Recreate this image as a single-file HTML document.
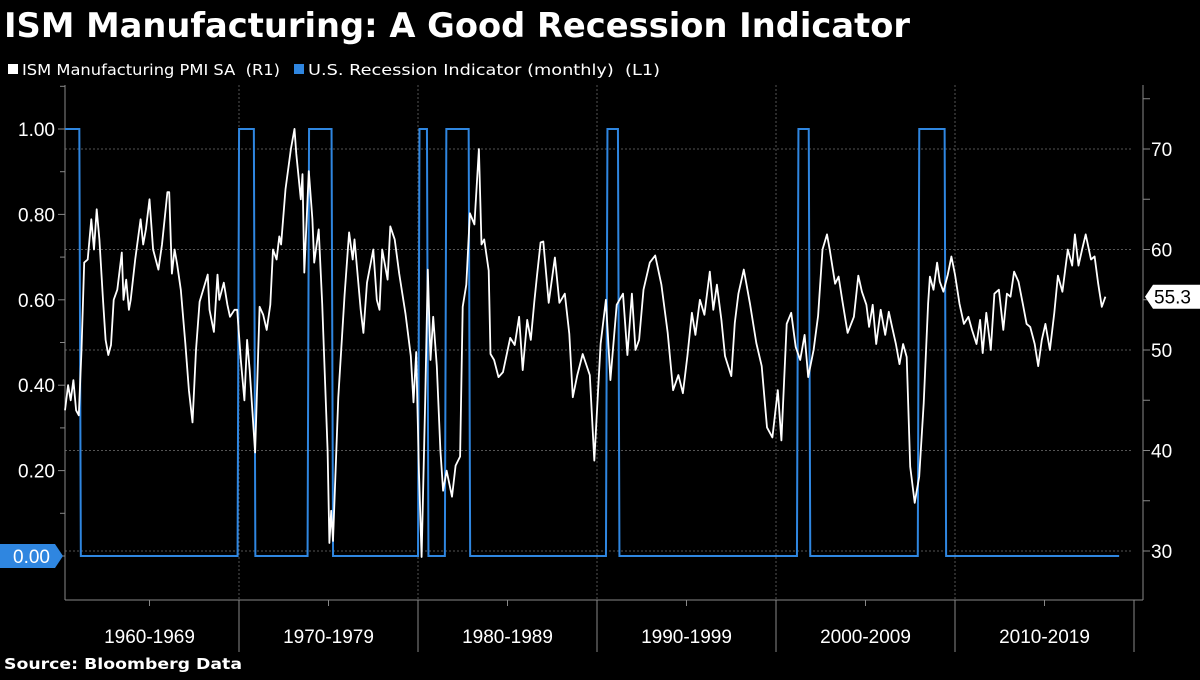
<!DOCTYPE html>
<html><head><meta charset="utf-8"><style>
body{margin:0;background:#000;width:1200px;height:675px;overflow:hidden;font-family:"Liberation Sans",sans-serif}
</style></head><body>
<svg id="c" width="1200" height="675" xmlns="http://www.w3.org/2000/svg">
<text x="4" y="37" fill="#fff" font-size="34" font-weight="bold" font-family="DejaVu Sans, sans-serif" textLength="906" lengthAdjust="spacingAndGlyphs">ISM Manufacturing: A Good Recession Indicator</text>
<g>
<rect x="8" y="64" width="10" height="10" fill="#fff"/>
<text x="22" y="75" fill="#fff" font-size="15" font-family="DejaVu Sans, sans-serif" textLength="258" lengthAdjust="spacingAndGlyphs" xml:space="preserve">ISM Manufacturing PMI SA  (R1)</text>
<rect x="294" y="64" width="10" height="10" fill="#2f86e0"/>
<text x="308" y="75" fill="#fff" font-size="15" font-family="DejaVu Sans, sans-serif" textLength="352" lengthAdjust="spacingAndGlyphs" xml:space="preserve">U.S. Recession Indicator (monthly)  (L1)</text>
</g>
<g id="grid"></g>
<g id="axes"></g>
<g id="series"></g>
<text x="4" y="669" fill="#fff" font-size="15" font-weight="bold" font-family="DejaVu Sans, sans-serif" textLength="238" lengthAdjust="spacingAndGlyphs">Source: Bloomberg Data</text>
</svg>
<script>
const decadeLabels=["1960-1969","1970-1979","1980-1989","1990-1999","2000-2009","2010-2019"];
const leftTicks=[0,0.2,0.4,0.6,0.8,1.0];
const rightTicks=[30,40,50,60,70];
const recStart=[1960.25,1969.92,1973.83,1980.0,1981.5,1990.5,2001.17,2007.92];
const recEnd=[1961.08,1970.83,1975.17,1980.5,1982.83,1991.17,2001.83,2009.42];
const dataEnd=2019.17;
const lastValue=55.3;
const dates=[1960.28,1960.45,1960.6,1960.75,1960.9,1961.05,1961.2,1961.35,1961.55,1961.75,1961.9,1962.05,1962.2,1962.4,1962.55,1962.7,1962.85,1963.0,1963.2,1963.45,1963.55,1963.7,1963.85,1963.95,1964.2,1964.5,1964.65,1964.8,1965.0,1965.2,1965.5,1965.7,1966.0,1966.1,1966.25,1966.4,1966.55,1966.75,1967.0,1967.2,1967.4,1967.6,1967.8,1968.0,1968.25,1968.35,1968.6,1968.8,1968.9,1969.15,1969.35,1969.5,1969.75,1969.9,1970.1,1970.3,1970.45,1970.6,1970.9,1971.15,1971.35,1971.55,1971.75,1971.9,1972.1,1972.25,1972.35,1972.6,1972.9,1973.1,1973.2,1973.45,1973.55,1973.65,1973.9,1974.1,1974.2,1974.45,1974.65,1974.95,1975.05,1975.15,1975.25,1975.55,1975.9,1976.15,1976.35,1976.45,1976.8,1976.95,1977.15,1977.5,1977.7,1977.85,1978.0,1978.3,1978.45,1978.7,1978.95,1979.3,1979.6,1979.75,1979.9,1980.05,1980.2,1980.4,1980.55,1980.7,1980.85,1981.05,1981.25,1981.4,1981.6,1981.9,1982.1,1982.35,1982.5,1982.7,1982.9,1983.15,1983.4,1983.55,1983.7,1983.95,1984.05,1984.25,1984.5,1984.75,1985.15,1985.4,1985.65,1985.85,1986.1,1986.3,1986.5,1986.65,1986.85,1987.0,1987.3,1987.65,1987.9,1988.2,1988.45,1988.65,1988.9,1989.2,1989.6,1989.85,1990.2,1990.5,1990.75,1991.1,1991.45,1991.7,1991.95,1992.15,1992.35,1992.6,1992.95,1993.25,1993.6,1993.95,1994.25,1994.55,1994.8,1995.05,1995.3,1995.5,1995.75,1996.0,1996.3,1996.5,1996.7,1996.95,1997.15,1997.5,1997.7,1997.9,1998.2,1998.55,1998.9,1999.2,1999.5,1999.8,2000.1,2000.3,2000.6,2000.85,2001.1,2001.35,2001.6,2001.8,2002.1,2002.35,2002.6,2002.85,2003.0,2003.3,2003.5,2003.7,2004.0,2004.35,2004.6,2004.8,2005.05,2005.2,2005.4,2005.6,2005.85,2006.1,2006.3,2006.5,2006.7,2006.9,2007.1,2007.3,2007.5,2007.75,2008.0,2008.25,2008.5,2008.6,2008.8,2009.0,2009.15,2009.35,2009.6,2009.8,2010.0,2010.25,2010.5,2010.75,2010.95,2011.2,2011.4,2011.55,2011.75,2012.0,2012.2,2012.45,2012.7,2012.9,2013.1,2013.3,2013.55,2013.8,2014.0,2014.2,2014.45,2014.65,2014.85,2015.05,2015.3,2015.55,2015.75,2016.0,2016.3,2016.55,2016.7,2016.9,2017.1,2017.3,2017.6,2017.8,2018.0,2018.2,2018.4,2018.55,2018.7,2018.85,2019.0,2019.08,2019.17];
const pmi=[44,46.5,45,47,44,43.5,50,58.7,59,63,60,64,61,55,51,49.5,50.5,55,56,59.7,55,57,54,55,59,63,60.5,62,65,60,58,60.5,65.7,65.7,57.6,60,58.5,56,50.7,46,42.8,50,54.8,56,57.5,54,51.8,57.5,55,56.7,54.5,53.3,54,54,49,45,51,48,39.8,54.3,53.5,52,54.5,60,59,61.3,60.5,66,70,72,69.5,65,67.5,57.7,67.8,63,58.7,62,54.6,40,30.8,34,31,45.3,55.5,61.7,59,61,54,51.7,56.7,60,55,54,60,57,62.3,61,57.6,53.6,49.4,44.8,49.8,38,29.4,45,58,49,53.3,48.4,40,36,38,35.4,38.5,39.4,54.3,56.5,63.6,62.5,70,60.5,61,57.9,49.6,49,47.3,47.8,51.2,50.5,53.3,48,53,51,54.8,57.4,60.7,60.8,54.7,59.2,54.7,55.6,51.6,45.3,47.5,49.6,47.5,39,50.6,55,47,54.5,55.6,49.5,55.6,50,51,56,58.7,59.4,56.5,51.7,46,47.5,45.7,49.4,53.7,51.5,55,53.5,57.8,54,56.5,53,49.4,47.4,52.7,55.6,58,54.6,50.7,48.4,42.3,41.3,46,41,52.6,53.7,50.3,49,51.5,47.3,50,53.4,60,61.5,60,56.6,57.3,55,51.7,53.3,57.4,55.8,54.5,52.3,54.5,50.6,54,51.5,53.8,52.2,50.6,48.6,50.6,49.3,38.4,34.8,37.4,44.7,54.6,57.3,56,58.7,56.8,55.8,57.5,59.3,57.5,54.6,52.6,53.3,52,50.6,53,49.7,53.7,50,55.6,56,52,55.6,55.3,57.8,56.8,54.5,52.6,52.3,50.6,48.4,51,52.6,50,53.7,57.4,55.8,60,58.4,61.5,58.4,60,61.5,59,59.3,56.6,54.3,55.3];

const NS='http://www.w3.org/2000/svg';
const X0=65,X1=1133,YT=85,YB=600,AXR=1143;
function xS(t){return 60+(t-1960)*17.9;}
function yL(v){return 556-v*427;}
function yR(v){return 551-(v-30)*10.05;}
function mk(tag,attrs,parent){const e=document.createElementNS(NS,tag);for(const k in attrs)e.setAttribute(k,attrs[k]);parent.appendChild(e);return e;}
const grid=document.getElementById('grid'),axes=document.getElementById('axes'),series=document.getElementById('series');

rightTicks.forEach(v=>{
  const y=yR(v);
  const l=mk('line',{x1:X0,x2:X1,y1:y,y2:y,stroke:'#555','stroke-dasharray':'2,2','stroke-width':1},grid);
  
  
  mk('line',{x1:AXR,x2:AXR+7,y1:y,y2:y,stroke:'#888'},axes);
  const t=mk('text',{x:AXR+8,y:y+7,fill:'#fff','font-size':19},axes);t.textContent=v;
  
  
});
for(let v=35;v<=75;v+=10){const y=yR(v);mk('line',{x1:AXR,x2:AXR+7,y1:y,y2:y,stroke:'#888'},axes);}
leftTicks.forEach(v=>{
  const y=yL(v);
  mk('line',{x1:X0-7,x2:X0,y1:y,y2:y,stroke:'#888'},axes);
  if(v===0)return;
  const t=mk('text',{x:X0-10,y:y+7,fill:'#fff','font-size':19,'text-anchor':'end'},axes);t.textContent=v.toFixed(2);
  
  
});
for(let v=0.1;v<1.1;v+=0.2){const y=yL(v);mk('line',{x1:X0-5,x2:X0,y1:y,y2:y,stroke:'#888'},axes);}
mk('line',{x1:X0,x2:X0,y1:YT,y2:YB,stroke:'#888'},axes);
mk('line',{x1:AXR,x2:AXR,y1:YT,y2:YB,stroke:'#888'},axes);
mk('line',{x1:X0,x2:AXR,y1:YB,y2:YB,stroke:'#888'},axes);
decadeLabels.forEach((lab,i)=>{
  const xa=xS(1960+i*10),xb=xS(1970+i*10);
  if(i>0){const g=mk('line',{x1:xa,x2:xa,y1:YT,y2:YB,stroke:'#555','stroke-dasharray':'2,2'},grid);
    
    }
  mk('line',{x1:xb,x2:xb,y1:YB,y2:652,stroke:'#888'},axes);
  const xm=xS(1965+i*10);mk('line',{x1:xm,x2:xm,y1:YB,y2:YB+6,stroke:'#888'},axes);
  const t=mk('text',{x:(xa+xb)/2,y:643,fill:'#fff','font-size':19,'text-anchor':'middle'},axes);t.textContent=lab;
  
  
});
let d='M'+X0+','+yL(1);
recStart.forEach((s,i)=>{
  const xs=Math.max(X0,xS(s)),xe=xS(recEnd[i]);
  if(i>0||xs>X0+1){d+=' L'+xs+','+yL(0)+' L'+(xs+1.5)+','+yL(1);}
  d+=' L'+xe+','+yL(1)+' L'+(xe+1.5)+','+yL(0);
});
d+=' L'+xS(dataEnd)+','+yL(0);
const rec=mk('path',{d:d,fill:'none',stroke:'#2f86e0','stroke-width':2},series);


const pts=dates.map((t,i)=>xS(t).toFixed(1)+','+yR(pmi[i]).toFixed(1)).join(' ');
const pl=mk('polyline',{points:pts,fill:'none',stroke:'#fff','stroke-width':1.8,'stroke-linejoin':'round'},series);


const yb=yL(0);
const b=mk('path',{d:`M0,${yb-12} L55,${yb-12} L63,${yb} L55,${yb+12} L0,${yb+12} Z`,fill:'#2f86e0'},series);


const bt=mk('text',{x:50,y:yb+7,fill:'#fff','font-size':19,'text-anchor':'end'},series);bt.textContent='0.00';


const yp=yR(lastValue);
const p=mk('path',{d:`M1145,${yp} L1153,${yp-12} L1200,${yp-12} L1200,${yp+12} L1153,${yp+12} Z`,fill:'#fff'},series);


const pt=mk('text',{x:1154,y:yp+7,fill:'#000','font-size':19},series);pt.textContent=lastValue.toFixed(1);


</script>
</body></html>
